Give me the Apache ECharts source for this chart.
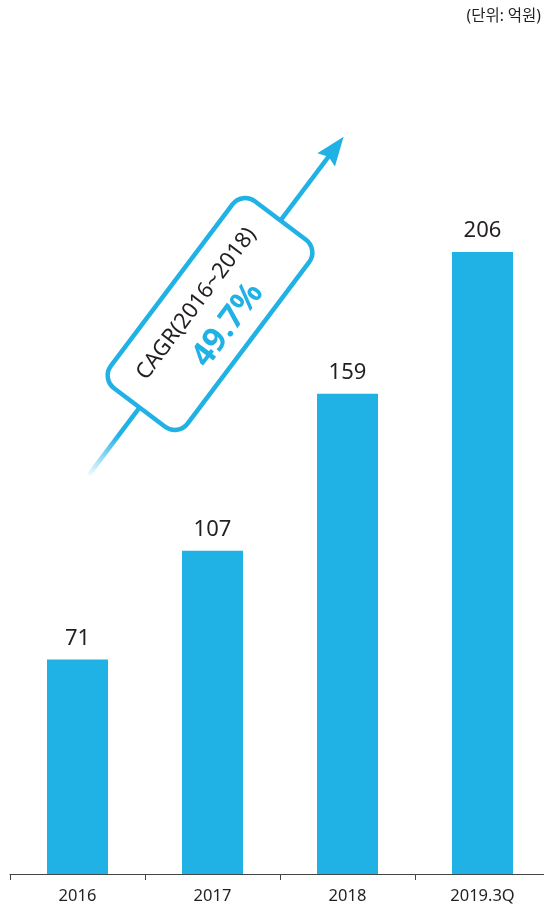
<!DOCTYPE html>
<html>
<head>
<meta charset="utf-8">
<script src="https://cdn.jsdelivr.net/npm/echarts@6/dist/echarts.min.js"></script>
<style>
  html, body { margin: 0; padding: 0; background: #fff; overflow: hidden; }
  #chart { width: 550px; height: 909px; }
</style>
</head>
<body>
<div id="chart"></div>
<script>
// 데이터
var categories = ['2016', '2017', '2018', '2019.3Q'];
var values = [71, 107, 159, 206];
var unitText = '(단위: 억원)';
var cagrTitle = 'CAGR(2016~2018)';
var cagrValue = '49.7%';

var blue = '#20b1e5';
var font = '"Noto Sans", "Noto Sans CJK KR", sans-serif';

// 축이 화면 오른쪽 밖까지 이어지므로 컨테이너를 550px로 잡음
var chart = echarts.init(document.getElementById('chart'));

// CAGR 화살표 + 박스 (회전된 그룹)
var angle = 53 * Math.PI / 180;
var cagrGroup = {
    type: 'group',
    x: 210,
    y: 314,
    rotation: angle,
    children: [
        {
            type: 'line',
            shape: { x1: -202, y1: 0, x2: 198, y2: 0 },
            style: {
                lineWidth: 4.5,
                stroke: new echarts.graphic.LinearGradient(0, 0, 1, 0, [
                    { offset: 0, color: 'rgba(32,177,229,0)' },
                    { offset: 0.13, color: blue },
                    { offset: 1, color: blue }
                ])
            }
        },
        {
            type: 'polygon',
            shape: { points: [[222, 0], [193, -11], [197, 0], [193, 11]] },
            style: { fill: blue }
        },
        {
            type: 'rect',
            shape: { x: -117, y: -48, width: 234, height: 96, r: 16 },
            style: { fill: '#fff', stroke: blue, lineWidth: 4.5 }
        },
        {
            type: 'text',
            x: 0, y: -17,
            style: {
                text: cagrTitle,
                font: '22px ' + font,
                fill: '#231f20',
                align: 'center',
                verticalAlign: 'middle'
            }
        },
        {
            type: 'text',
            x: 2, y: 21,
            style: {
                text: cagrValue,
                font: 'bold 33px ' + font,
                fill: blue,
                align: 'center',
                verticalAlign: 'middle'
            }
        }
    ]
};

chart.setOption({
    animation: false,
    grid: { left: 10, right: 0, top: 119, bottom: 35, containLabel: false },
    xAxis: {
        type: 'category',
        data: categories,
        axisLine: { lineStyle: { color: '#444', width: 1 } },
        axisTick: { show: true, length: 6, interval: 0, lineStyle: { color: '#444' } },
        axisLabel: { color: '#231f20', fontSize: 16.5, margin: 14, fontFamily: font }
    },
    yAxis: {
        type: 'value',
        min: 0,
        max: 250,
        show: false,
        splitLine: { show: false }
    },
    series: [{
        type: 'bar',
        data: values,
        barWidth: 61,
        itemStyle: { color: blue },
        label: {
            show: true,
            position: 'top',
            distance: 10,
            color: '#231f20',
            fontSize: 22,
            fontFamily: font
        }
    }],
    graphic: [
        {
            type: 'text',
            right: 9,
            top: 9,
            style: { text: unitText, font: '15.5px ' + font, fill: '#231f20' }
        },
        cagrGroup
    ]
});
</script>
</body>
</html>
